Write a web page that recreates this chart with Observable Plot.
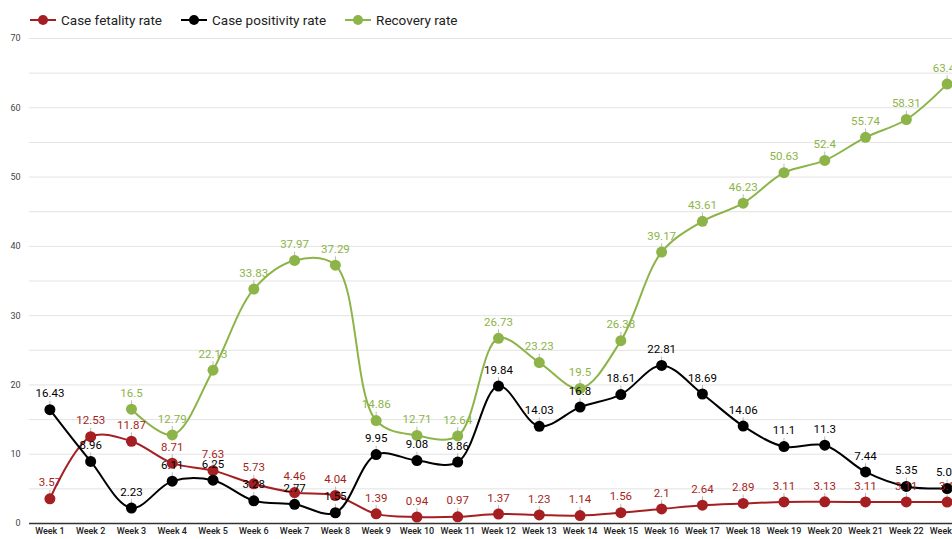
<!DOCTYPE html>
<html>
<head>
<meta charset="utf-8">
<script src="https://cdn.jsdelivr.net/npm/d3@7"></script>
<script src="https://cdn.jsdelivr.net/npm/@observablehq/plot@0.6"></script>
<style>
  html, body { margin: 0; padding: 0; background: #fff; overflow: hidden; width: 952px; height: 539px; }
  body { font-family: Roboto, "Noto Sans", sans-serif; }
  #legend { height: 32px; display: flex; align-items: center; padding-left: 30px; padding-top: 8px; box-sizing: border-box; font-size: 13.5px; color: #222; }
  .item { display: flex; align-items: center; margin-right: 19px; }
  .item svg { margin-right: 5px; }
  #chart { width: 975px; }
  #chart svg { overflow: visible; max-width: none; }
</style>
</head>
<body>
<div id="legend"></div>
<div id="chart"></div>
<script>
const weeks = ["Week 1","Week 2","Week 3","Week 4","Week 5","Week 6","Week 7","Week 8","Week 9","Week 10","Week 11","Week 12","Week 13","Week 14","Week 15","Week 16","Week 17","Week 18","Week 19","Week 20","Week 21","Week 22","Week 23"];
const caseFatality = [3.57,12.53,11.87,8.71,7.63,5.73,4.46,4.04,1.39,0.94,0.97,1.37,1.23,1.14,1.56,2.1,2.64,2.89,3.11,3.13,3.11,3.11,3.1];
const casePositivity = [16.43,8.96,2.23,6.11,6.25,3.28,2.77,1.55,9.95,9.08,8.86,19.84,14.03,16.8,18.61,22.81,18.69,14.06,11.1,11.3,7.44,5.35,5.05];
const recovery = [null,null,16.5,12.79,22.13,33.83,37.97,37.29,14.86,12.71,12.64,26.73,23.23,19.5,26.38,39.17,43.61,46.23,50.63,52.4,55.74,58.31,63.42];
const seriesNames = ["Case fetality rate","Case positivity rate","Recovery rate"];
const seriesColors = ["#a51f22","#000000","#8cb448"];
const yTicks = [0,10,20,30,40,50,60,70];
const yGrid = [5,10,15,20,25,30,35,40,45,50,55,60,65,70];

const seriesValues = [caseFatality, casePositivity, recovery];
const data = [];
seriesValues.forEach((vals, si) => {
  vals.forEach((v, i) => {
    if (v != null) data.push({week: weeks[i], value: v, series: seriesNames[si]});
  });
});

// legend
const legend = document.getElementById("legend");
seriesNames.forEach((name, i) => {
  const item = document.createElement("div");
  item.className = "item";
  item.innerHTML = `<svg width="26" height="12"><line x1="0" x2="26" y1="6" y2="6" stroke="${seriesColors[i]}" stroke-width="2"/><circle cx="13" cy="6" r="5" fill="${seriesColors[i]}"/></svg><span>${name}</span>`;
  legend.appendChild(item);
});

const colorScale = {domain: seriesNames, range: seriesColors};
const stem = {draw(context, l) { context.moveTo(0, 0); context.lineTo(0, -l); }};

const chart = Plot.plot({
  width: 975,
  height: 507,
  marginLeft: 29,
  marginRight: 8,
  marginTop: 6,
  marginBottom: 16,
  style: {fontFamily: "Roboto, sans-serif", background: "transparent", maxWidth: "none"},
  x: {type: "point", domain: weeks, padding: 0.5, round: false, label: null},
  y: {domain: [0, 70], label: null},
  color: colorScale,
  marks: [
    Plot.ruleY(yGrid, {stroke: "#e3e3e3", strokeWidth: 1}),
    Plot.axisY({ticks: yTicks, tickSize: 0, tickPadding: 9, fontSize: 9, fill: "#444", label: null}),
    Plot.axisX({tickSize: 0, tickPadding: 4, fontSize: 9, fill: "#222", fontWeight: 500, label: null}),
    Plot.ruleY([0], {stroke: "#333", strokeWidth: 1.5}),
    Plot.vector(data, {x: "week", y: "value", length: 5, rotate: 0, shape: stem, dy: -6, stroke: "#bbb", strokeWidth: 1}),
    Plot.line(data, {x: "week", y: "value", z: "series", stroke: "series", strokeWidth: 2, curve: "catmull-rom"}),
    Plot.dot(data, {x: "week", y: "value", fill: "series", r: 5.5}),
    Plot.text(data, {x: "week", y: "value", text: d => String(d.value), fill: "series", dy: -16, fontSize: 11.5})
  ]
});
document.getElementById("chart").appendChild(chart);
</script>
</body>
</html>
